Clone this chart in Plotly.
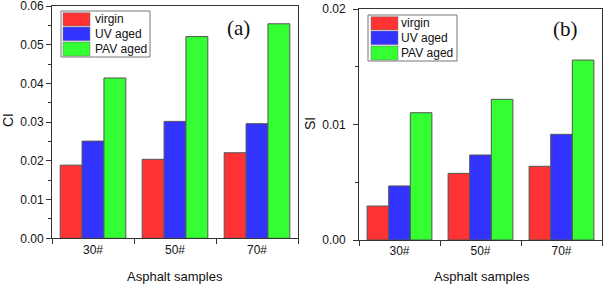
import plotly.graph_objects as go

categories = ["30#", "50#", "70#"]
series_names = ["virgin", "UV aged", "PAV aged"]
series_colors = ["#FF3333", "#3333FF", "#33FF33"]

ci_virgin = [0.0189, 0.0204, 0.0221]
ci_uv = [0.0251, 0.0302, 0.0296]
ci_pav = [0.0414, 0.0521, 0.0554]

si_virgin = [0.00294, 0.00577, 0.00638]
si_uv = [0.00468, 0.00736, 0.00915]
si_pav = [0.01102, 0.01218, 0.01558]

ci_data = [ci_virgin, ci_uv, ci_pav]
si_data = [si_virgin, si_uv, si_pav]

W, H = 603, 286
FONT = "Liberation Sans, Arial, sans-serif"
AXC = "#333333"


def px(x):
    return x / W


def py(y):
    return 1 - y / H


fig = go.Figure()
for vals, name, col in zip(ci_data, series_names, series_colors):
    fig.add_trace(go.Bar(x=categories, y=vals, name=name, marker=dict(color=col, line=dict(color="#555555", width=1)),
                         xaxis="x", yaxis="y", showlegend=False))
for vals, name, col in zip(si_data, series_names, series_colors):
    fig.add_trace(go.Bar(x=categories, y=vals, name=name, marker=dict(color=col, line=dict(color="#555555", width=1)),
                         xaxis="x2", yaxis="y2", showlegend=False))

common_x = dict(type="category", range=[-0.5, 2.5], showline=True, linecolor=AXC, linewidth=1, mirror=True,
                ticks="outside", tickson="boundaries", ticklen=5, tickcolor=AXC, showgrid=False, zeroline=False,
                automargin=False, ticklabeloverflow="allow", tickfont=dict(family=FONT, size=12, color="#111"))
common_y = dict(showline=True, linecolor=AXC, linewidth=1, mirror=True, ticks="outside", ticklen=5, tickcolor=AXC,
                showgrid=False, zeroline=False, tickformat=".2f", dtick=0.01, automargin=False,
                ticklabeloverflow="allow", tickfont=dict(family=FONT, size=12, color="#111"),
                minor=dict(dtick=0.005, ticks="outside", ticklen=3, tickcolor=AXC, showgrid=False))

fig.update_layout(
    width=W, height=H, margin=dict(l=0, r=0, t=0, b=0, autoexpand=False),
    paper_bgcolor="white", plot_bgcolor="white",
    barmode="group", bargap=0.2, bargroupgap=0, showlegend=False,
    xaxis=dict(domain=[px(52), px(298)], anchor="y", **common_x),
    yaxis=dict(domain=[py(238.3), py(6)], anchor="x", range=[0, 0.06], **common_y),
    xaxis2=dict(domain=[px(359), px(602)], anchor="y2", **common_x),
    yaxis2=dict(domain=[py(240), py(9)], anchor="x2", range=[0, 0.02], ticklabelstandoff=5, **common_y),
)

shapes = []
annotations = []


def add_legend(x0, y0, x1, y1, sw_x0, sw_x1, rows, text_x):
    shapes.append(dict(type="rect", xref="paper", yref="paper", x0=px(x0), x1=px(x1), y0=py(y1), y1=py(y0),
                       line=dict(color="#777777", width=1), fillcolor="white", layer="above"))
    for (ra, rb), name, col in zip(rows, series_names, series_colors):
        shapes.append(dict(type="rect", xref="paper", yref="paper", x0=px(sw_x0), x1=px(sw_x1), y0=py(rb), y1=py(ra),
                           line=dict(color="#777777", width=0.5), fillcolor=col, layer="above"))
        annotations.append(dict(text=name, xref="paper", yref="paper", x=px(text_x), y=py((ra + rb) / 2),
                                xanchor="left", yanchor="middle", showarrow=False,
                                font=dict(family=FONT, size=12, color="#111")))


add_legend(61, 11, 150, 57, 63, 90, [(12.7, 26), (27, 40.7), (42, 56)], 93)
add_legend(368, 15, 457, 61, 371, 398, [(16.7, 30), (31, 44.7), (46, 60)], 399)

SERIF = "Liberation Serif, DejaVu Serif, serif"
annotations += [
    dict(text="(a)", xref="paper", yref="paper", x=px(238), y=py(28), showarrow=False,
         xanchor="center", yanchor="middle", font=dict(family=SERIF, size=21, color="#111")),
    dict(text="(b)", xref="paper", yref="paper", x=px(565), y=py(29), showarrow=False,
         xanchor="center", yanchor="middle", font=dict(family=SERIF, size=21, color="#111")),
    dict(text="CI", xref="paper", yref="paper", x=px(8), y=py(120), showarrow=False, textangle=-90,
         xanchor="center", yanchor="middle", font=dict(family=FONT, size=14, color="#111")),
    dict(text="SI", xref="paper", yref="paper", x=px(310), y=py(124), showarrow=False, textangle=-90,
         xanchor="center", yanchor="middle", font=dict(family=FONT, size=14, color="#111")),
    dict(text="Asphalt samples", xref="paper", yref="paper", x=px(175), y=py(276), showarrow=False,
         xanchor="center", yanchor="middle", font=dict(family=FONT, size=13, color="#111")),
    dict(text="Asphalt samples", xref="paper", yref="paper", x=px(482), y=py(276), showarrow=False,
         xanchor="center", yanchor="middle", font=dict(family=FONT, size=13, color="#111")),
]

fig.update_layout(shapes=shapes, annotations=annotations)
fig.write_html("out.html", config={"displayModeBar": False},
               post_script="document.body.style.margin='0';document.body.style.overflow='hidden';")
